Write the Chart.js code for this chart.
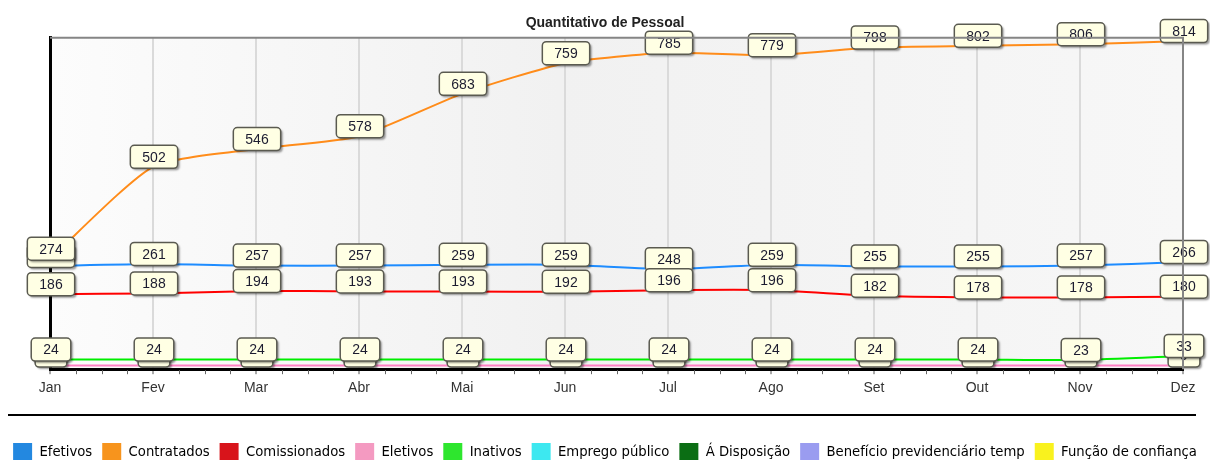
<!DOCTYPE html>
<html>
<head>
<meta charset="utf-8">
<script src="https://cdn.jsdelivr.net/npm/chart.js@4.4.1/dist/chart.umd.min.js"></script>
<style>
  html, body { margin: 0; padding: 0; background: #fff; }
  #wrap { width: 1210px; height: 460px; }
</style>
</head>
<body>
<div id="wrap"><canvas class="js-graph"></canvas></div>
<script>
const months = ['Jan', 'Fev', 'Mar', 'Abr', 'Mai', 'Jun', 'Jul', 'Ago', 'Set', 'Out', 'Nov', 'Dez'];

const efetivos = [256, 261, 257, 257, 259, 259, 248, 259, 255, 255, 257, 266];
const contratados = [274, 502, 546, 578, 683, 759, 785, 779, 798, 802, 806, 814];
const comissionados = [186, 188, 194, 193, 193, 192, 196, 196, 182, 178, 178, 180];
const eletivos = [9, 9, 9, 9, 9, 9, 9, 9, 9, 9, 9, 9];
const inativos = [24, 24, 24, 24, 24, 24, 24, 24, 24, 24, 23, 33];
const emprego_publico = [];
const a_disposicao = [];
const beneficio = [];
const funcao_confianca = [];

const series_names = ['Efetivos', 'Contratados', 'Comissionados', 'Eletivos', 'Inativos',
    'Emprego público', 'Á Disposição', 'Benefício previdenciário temp', 'Função de confiança'];
const series_values = [efetivos, contratados, comissionados, eletivos, inativos,
    emprego_publico, a_disposicao, beneficio, funcao_confianca];
const line_colors = ['#1e8cff', '#ff8c1a', '#ff0000', '#ff80c4', '#00ee00',
    '#33e6ee', '#0b6e14', '#9a9cf0', '#f6ef1e'];
const legend_colors = ['#2388e0', '#f7941d', '#d8141b', '#f49ac1', '#2ee62e',
    '#3de8f0', '#0b6e14', '#9a9cf0', '#f9f21e'];

const y_max = 822;

// value boxes drawn over the lines, dataset by dataset
const value_boxes = {
    id: 'value_boxes',
    afterDatasetsDraw(chart) {
        const ctx = chart.ctx;
        ctx.save();
        ctx.font = '14px "Liberation Sans", Arial, sans-serif';
        ctx.textAlign = 'center';
        ctx.textBaseline = 'middle';
        chart.data.datasets.forEach((ds, di) => {
            const meta = chart.getDatasetMeta(di);
            meta.data.forEach((pt, i) => {
                const txt = String(ds.data[i]);
                const w = ctx.measureText(txt).width + 24;
                const h = 23;
                const x = pt.x - w / 2 + 1;
                const y = pt.y - 10 - h / 2;
                ctx.save();
                ctx.shadowColor = 'rgba(0,0,0,0.4)';
                ctx.shadowOffsetX = 2;
                ctx.shadowOffsetY = 2;
                ctx.shadowBlur = 2;
                ctx.beginPath();
                ctx.roundRect(x, y, w, h, 4);
                ctx.fillStyle = '#ffffe4';
                ctx.fill();
                ctx.restore();
                ctx.beginPath();
                ctx.roundRect(x, y, w, h, 4);
                ctx.lineWidth = 1.5;
                ctx.strokeStyle = '#5a5a50';
                ctx.stroke();
                ctx.fillStyle = '#1c1c30';
                ctx.fillText(txt, pt.x + 1, y + h / 2 + 1);
            });
        });
        ctx.restore();
    }
};

// plot background, frame, minor ticks and the rule above the legend
const frame = {
    id: 'frame',
    beforeInit(chart) {
        const fit = chart.legend.fit;
        chart.legend.fit = function () {
            fit.bind(chart.legend)();
            this.height -= 11;
        };
    },
    beforeDraw(chart) {
        const {ctx, chartArea: a} = chart;
        ctx.save();
        const g = ctx.createLinearGradient(a.left, 0, a.right, 0);
        g.addColorStop(0, '#fcfcfc');
        g.addColorStop(0.45, '#f1f1f1');
        g.addColorStop(1, '#f7f7f7');
        ctx.fillStyle = g;
        ctx.fillRect(a.left, a.top, a.right - a.left, a.bottom - a.top);
        ctx.restore();
    },
    afterDraw(chart) {
        const {ctx, chartArea: a} = chart;
        const xs = chart.scales.x;
        ctx.save();
        ctx.strokeStyle = '#858585';
        ctx.lineWidth = 2;
        ctx.beginPath();
        ctx.moveTo(a.left, a.top);
        ctx.lineTo(a.right, a.top);
        ctx.lineTo(a.right, a.bottom);
        ctx.stroke();

        ctx.strokeStyle = '#666';
        ctx.lineWidth = 1;
        for (let i = 0; i < months.length - 1; i++) {
            for (let k = 1; k < 4; k++) {
                const px = Math.round(xs.getPixelForValue(i + k / 4)) + 0.5;
                ctx.beginPath();
                ctx.moveTo(px, a.bottom + 1);
                ctx.lineTo(px, a.bottom + 5);
                ctx.stroke();
            }
        }

        ctx.strokeStyle = '#000';
        ctx.lineWidth = 2;
        ctx.beginPath();
        ctx.moveTo(8, chart.legend.top - 18);
        ctx.lineTo(1196, chart.legend.top - 18);
        ctx.stroke();
        ctx.restore();
    }
};

const make_datasets = () => series_names.map((name, i) => ({
    label: name,
    data: series_values[i],
    borderColor: line_colors[i],
    backgroundColor: legend_colors[i],
    borderWidth: 2,
    pointRadius: 0,
    tension: 0.2,
    fill: false,
}));

const draw_chart = () => {
    const ctx = document.querySelector('.js-graph').getContext('2d');
    const chart = new Chart(ctx, {
        type: 'line',
        data: {
            labels: months,
            datasets: make_datasets()
        },
        options: {
            responsive: true,
            maintainAspectRatio: false,
            animation: false,
            layout: {
                padding: 0
            },
            scales: {
                x: {
                    offset: false,
                    grid: {
                        color: '#dadada',
                        lineWidth: 2,
                        tickColor: '#555',
                        tickLength: 5,
                        tickWidth: 1,
                    },
                    border: {color: '#000', width: 3},
                    ticks: {
                        color: '#333',
                        font: {size: 14, family: '"Liberation Sans", Arial, sans-serif'},
                        padding: 6,
                        maxRotation: 0,
                    },
                    afterFit: (scale) => { scale.height += 30; }
                },
                y: {
                    min: 0,
                    max: y_max,
                    grid: {display: false, drawTicks: false},
                    border: {color: '#000', width: 3},
                    ticks: {display: false},
                    afterFit: (scale) => { scale.width = 50; }
                },
                yr: {
                    position: 'right',
                    min: 0,
                    max: y_max,
                    grid: {display: false, drawTicks: false},
                    border: {display: false},
                    ticks: {display: false},
                    afterFit: (scale) => { scale.width = 27; }
                }
            },
            plugins: {
                title: {
                    display: true,
                    text: 'Quantitativo de Pessoal',
                    color: '#222',
                    font: {size: 14, weight: 'bold', family: '"Liberation Sans", Arial, sans-serif'},
                    padding: {top: 15, bottom: 6}
                },
                legend: {
                    position: 'bottom',
                    labels: {
                        boxWidth: 19,
                        boxHeight: 18,
                        padding: 10,
                        color: '#111',
                        font: {size: 14.7, family: '"Liberation Sans Narrow", "DejaVu Sans Condensed", sans-serif'},
                        generateLabels: (c) => c.data.datasets.map((ds, i) => ({
                            text: ds.label,
                            fillStyle: legend_colors[i],
                            strokeStyle: legend_colors[i],
                            lineWidth: 0,
                            datasetIndex: i,
                            hidden: false,
                        }))
                    }
                },
                tooltip: {enabled: false}
            }
        },
        plugins: [frame, value_boxes]
    });
    chart.update();
};

draw_chart();
</script>
</body>
</html>
